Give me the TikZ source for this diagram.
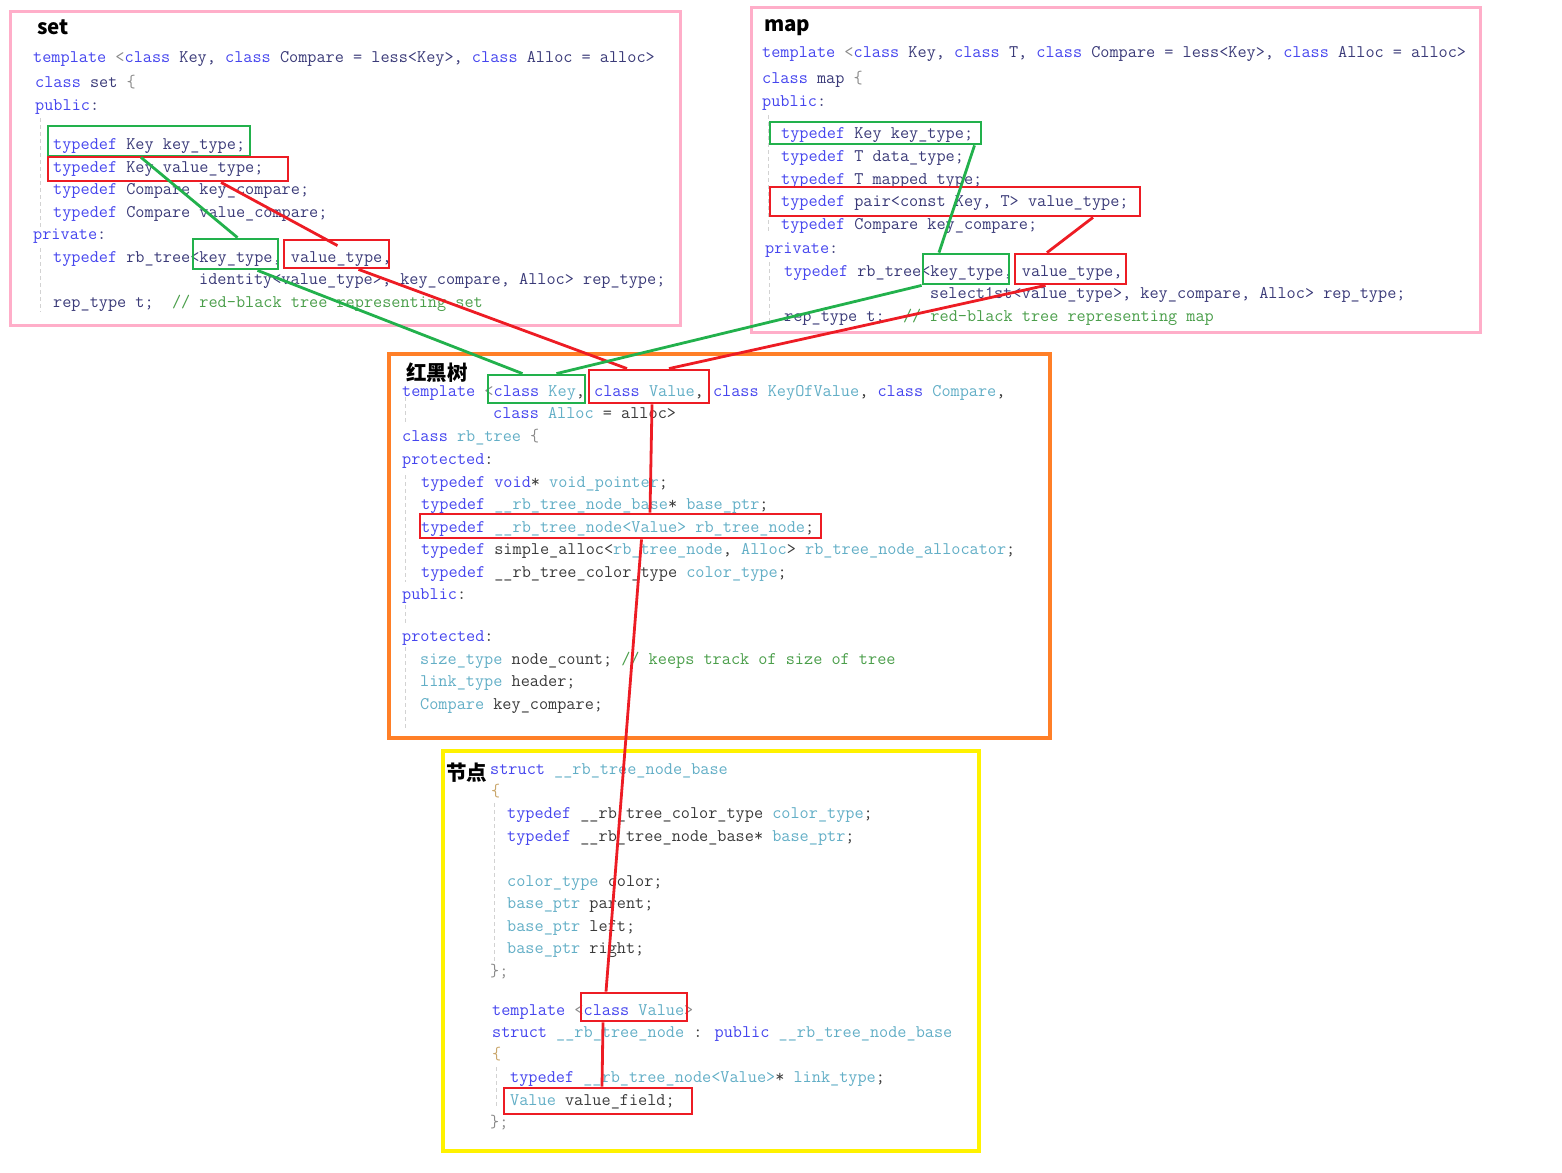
\documentclass[tikz,border=0pt]{standalone}
\usepackage{fontspec}
\usepackage{xcolor}
\usepackage{tikz}
\usetikzlibrary{positioning}
\newfontfamily\headfont{Noto Sans CJK SC}
\definecolor{pgreen}{HTML}{22B14C}
\definecolor{pred}{HTML}{ED1C24}
\definecolor{ppink}{HTML}{FFAEC9}
\definecolor{porange}{HTML}{FF7F27}
\definecolor{pyellow}{HTML}{FFF200}
\definecolor{kwblue}{HTML}{4545EE}
\definecolor{tyteal}{HTML}{62AEC6}
\definecolor{idnavy}{HTML}{3A3A78}
\definecolor{iddark}{HTML}{3A3A3A}
\definecolor{cmgreen}{HTML}{4A9E4A}
\definecolor{brtan}{HTML}{C9A66B}
\definecolor{symgray}{HTML}{8A8A8A}
\newcommand\kwd[1]{\textcolor{kwblue}{#1}}
\newcommand\typ[1]{\textcolor{tyteal}{#1}}
\newcommand\cmt[1]{\textcolor{cmgreen}{#1}}
\newcommand\brc[1]{\textcolor{brtan}{#1}}
\newcommand\sym[1]{\textcolor{symgray}{#1}}

\begin{document}
\begin{tikzpicture}[x=1pt, y=-1pt,
  code/.style={anchor=base west, inner sep=0pt, text=idnavy,
    font=\ttfamily\fontsize{17.75}{20}\selectfont},
  codeb/.style={code, text=iddark},
  headtxt/.style={anchor=base west, inner sep=0pt, text=black,
    font=\headfont\bfseries\fontsize{20.5}{24}\selectfont},
  gbox/.style={draw=pgreen, line width=2.8pt, inner sep=0pt},
  rbox/.style={draw=pred, line width=2.8pt, inner sep=0pt},
  glink/.style={draw=pgreen, line width=2.8pt},
  rlink/.style={draw=pred, line width=2.8pt},
  guide/.style={draw=gray!35, dash pattern=on 4pt off 3pt, line width=0.9pt},
  pinkframe/.style={draw=ppink, line width=3pt},
  orangeframe/.style={draw=porange, line width=3.4pt},
  yellowframe/.style={draw=pyellow, line width=3.4pt},
]
  \useasboundingbox (0,0) rectangle (1562,1172);

  \draw[pinkframe] (10,12) rectangle (680,325);
  \draw[pinkframe] (751,8) rectangle (1480,332);
  \draw[orangeframe] (389,354) rectangle (1050,738);
  \draw[yellowframe] (443,751) rectangle (979,1151);

  \draw[guide] (40,118) -- (40,230);
  \draw[guide] (40,248) -- (40,312);
  \draw[guide] (768,115) -- (768,233);
  \draw[guide] (769,262) -- (769,322);
  \draw[guide] (405,397) -- (405,422);
  \draw[guide] (405,475) -- (405,582);
  \draw[guide] (405,605) -- (405,623);
  \draw[guide] (405,647) -- (405,730);
  \draw[guide] (494,803) -- (494,968);
  \draw[guide] (496,1067) -- (496,1108);

  \node[headtxt] (settitle) at (37,35) {set};
  \node[code] (s1) at (33,63) {\kwd{template} \sym{<}\kwd{class} Key, \kwd{class} Compare = less<Key>, \kwd{class} Alloc = alloc>};
  \node[code] (s2) at (35,87) {\kwd{class} set \sym{\{}};
  \node[code] (s3) at (35,110) {\kwd{public}:};
  \node[code] (s4) at (53,149) {\kwd{typedef} Key key\_type;};
  \node[code] (s5) at (53,172) {\kwd{typedef} Key value\_type;};
  \node[code] (s6) at (53,194) {\kwd{typedef} Compare key\_compare;};
  \node[code] (s7) at (53,217) {\kwd{typedef} Compare value\_compare;};
  \node[code] (s8) at (33,239) {\kwd{private}:};
  \node[code] (s9) at (53,262) {\kwd{typedef} rb\_tree<key\_type, value\_type,};
  \node[code] (s10) at (199,284) {identity<value\_type>, key\_compare, Alloc> rep\_type;};
  \node[code] (s11) at (53,307) {rep\_type t;\ \ \cmt{// red-black tree representing set}};

  \node[headtxt] (maptitle) at (764,32) {map};
  \node[code] (m1) at (762,57) {\kwd{template} \sym{<}\kwd{class} Key, \kwd{class} T, \kwd{class} Compare = less<Key>, \kwd{class} Alloc = alloc>};
  \node[code] (m2) at (762,83) {\kwd{class} map \sym{\{}};
  \node[code] (m3) at (762,106) {\kwd{public}:};
  \node[code] (m4) at (781,138) {\kwd{typedef} Key key\_type;};
  \node[code] (m5) at (781,161) {\kwd{typedef} T data\_type;};
  \node[code] (m6) at (781,184) {\kwd{typedef} T mapped\_type;};
  \node[code] (m7) at (781,206) {\kwd{typedef} pair<const Key, T> value\_type;};
  \node[code] (m8) at (781,229) {\kwd{typedef} Compare key\_compare;};
  \node[code] (m9) at (765,253) {\kwd{private}:};
  \node[code] (m10) at (784,276) {\kwd{typedef} rb\_tree<key\_type, value\_type,};
  \node[code] (m11) at (930,298) {select1st<value\_type>, key\_compare, Alloc> rep\_type;};
  \node[code] (m12) at (784,321) {rep\_type t;\ \ \cmt{// red-black tree representing map}};

  \node[headtxt] (rbtitle) at (406,380) {红黑树};
  \node[codeb] (r1) at (402,396) {\kwd{template} \sym{<}\kwd{class} \typ{Key}, \kwd{class} \typ{Value}, \kwd{class} \typ{KeyOfValue}, \kwd{class} \typ{Compare},};
  \node[codeb] (r2) at (493,418) {\kwd{class} \typ{Alloc} = alloc>};
  \node[codeb] (r3) at (402,441) {\kwd{class} \typ{rb\_tree} \sym{\{}};
  \node[codeb] (r4) at (402,464) {\kwd{protected}:};
  \node[codeb] (r5) at (421,487) {\kwd{typedef} \kwd{void}* \typ{void\_pointer};};
  \node[codeb] (r6) at (421,509) {\kwd{typedef} \typ{\_\_rb\_tree\_node\_base}* \typ{base\_ptr};};
  \node[codeb] (r7) at (421,532) {\kwd{typedef} \typ{\_\_rb\_tree\_node<Value> rb\_tree\_node};};
  \node[codeb] (r8) at (421,554) {\kwd{typedef} simple\_alloc<\typ{rb\_tree\_node}, \typ{Alloc}> \typ{rb\_tree\_node\_allocator};};
  \node[codeb] (r9) at (421,577) {\kwd{typedef} \_\_rb\_tree\_color\_type \typ{color\_type};};
  \node[codeb] (r10) at (402,599) {\kwd{public}:};
  \node[codeb] (r11) at (402,641) {\kwd{protected}:};
  \node[codeb] (r12) at (420,664) {\typ{size\_type} node\_count; \cmt{// keeps track of size of tree}};
  \node[codeb] (r13) at (420,686) {\typ{link\_type} header;};
  \node[codeb] (r14) at (420,709) {\typ{Compare} key\_compare;};

  \node[headtxt] (ndtitle) at (446,780) {节点};
  \node[codeb] (n1) at (490,774) {\kwd{struct} \typ{\_\_rb\_tree\_node\_base}};
  \node[codeb] (n2) at (491,796) {\brc{\{}};
  \node[codeb] (n3) at (507,818) {\kwd{typedef} \_\_rb\_tree\_color\_type \typ{color\_type};};
  \node[codeb] (n4) at (507,841) {\kwd{typedef} \_\_rb\_tree\_node\_base* \typ{base\_ptr};};
  \node[codeb] (n5) at (507,886) {\typ{color\_type} color;};
  \node[codeb] (n6) at (507,908) {\typ{base\_ptr} parent;};
  \node[codeb] (n7) at (507,931) {\typ{base\_ptr} left;};
  \node[codeb] (n8) at (507,953) {\typ{base\_ptr} right;};
  \node[codeb] (n9) at (490,976) {\sym{\};}};
  \node[codeb] (n10) at (492,1015) {\kwd{template} \sym{<}\kwd{class} \typ{Value}\sym{>}};
  \node[codeb] (n11) at (492,1037) {\kwd{struct} \typ{\_\_rb\_tree\_node} : \kwd{public} \typ{\_\_rb\_tree\_node\_base}};
  \node[codeb] (n12) at (492,1059) {\brc{\{}};
  \node[codeb] (n13) at (510,1082) {\kwd{typedef} \typ{\_\_rb\_tree\_node<Value>}* \typ{link\_type};};
  \node[codeb] (n14) at (510,1105) {\typ{Value} value\_field;};
  \node[codeb] (n15) at (490,1127) {\sym{\};}};

  \node[gbox, minimum width=202pt, minimum height=30pt] (setkey) at (149,141) {};
  \node[rbox, minimum width=240pt, minimum height=24pt] (setval) at (168,169) {};
  \node[gbox, minimum width=85pt, minimum height=30pt] (setkt) at (235.5,254) {};
  \node[rbox, minimum width=105pt, minimum height=28pt] (setvt) at (336.5,254) {};

  \node[gbox, minimum width=211pt, minimum height=22pt] (mapkey) at (875.5,133) {};
  \node[rbox, minimum width=370pt, minimum height=29pt] (mapval) at (955,201.5) {};
  \node[gbox, minimum width=86pt, minimum height=30pt] (mapkt) at (966,269) {};
  \node[rbox, minimum width=111pt, minimum height=30pt] (mapvt) at (1070.5,269) {};

  \node[gbox, minimum width=97pt, minimum height=28pt] (rbkey) at (536.5,389) {};
  \node[rbox, minimum width=120pt, minimum height=33pt] (rbval) at (649,386.5) {};
  \node[rbox, minimum width=401pt, minimum height=24pt] (rbnode) at (620.5,526) {};

  \node[rbox, minimum width=106pt, minimum height=28pt] (ndval) at (634,1007) {};
  \node[rbox, minimum width=188pt, minimum height=26pt] (ndfield) at (598,1101) {};

  \draw[glink] ([xshift=-8pt]setkey.south) -- ([xshift=2pt]setkt.north);
  \draw[rlink] ([xshift=53pt]setval.south) -- ([xshift=1pt,yshift=-7pt]setvt.north);
  \draw[glink] ([xshift=22pt]setkt.south) -- ([xshift=-14pt]rbkey.north);
  \draw[rlink] ([xshift=22pt]setvt.south) -- ([xshift=-22pt]rbval.north);

  \draw[glink] ([xshift=99pt]mapkey.south) -- ([xshift=-27pt]mapkt.north);
  \draw[rlink] ([xshift=138pt]mapval.south) -- ([xshift=-23.5pt]mapvt.north);
  \draw[glink] (mapkt.south west) -- ([xshift=20pt]rbkey.north);
  \draw[rlink] ([xshift=-25pt]mapvt.south) -- ([xshift=20pt]rbval.north);

  \draw[rlink] ([xshift=3pt]rbval.south) -- ([xshift=29.5pt]rbnode.north);
  \draw[rlink] ([xshift=21pt]rbnode.south) -- ([xshift=-28pt]ndval.north);
  \draw[rlink] ([xshift=-31pt]ndval.south) -- ([xshift=4pt]ndfield.north);
\end{tikzpicture}
\end{document}
